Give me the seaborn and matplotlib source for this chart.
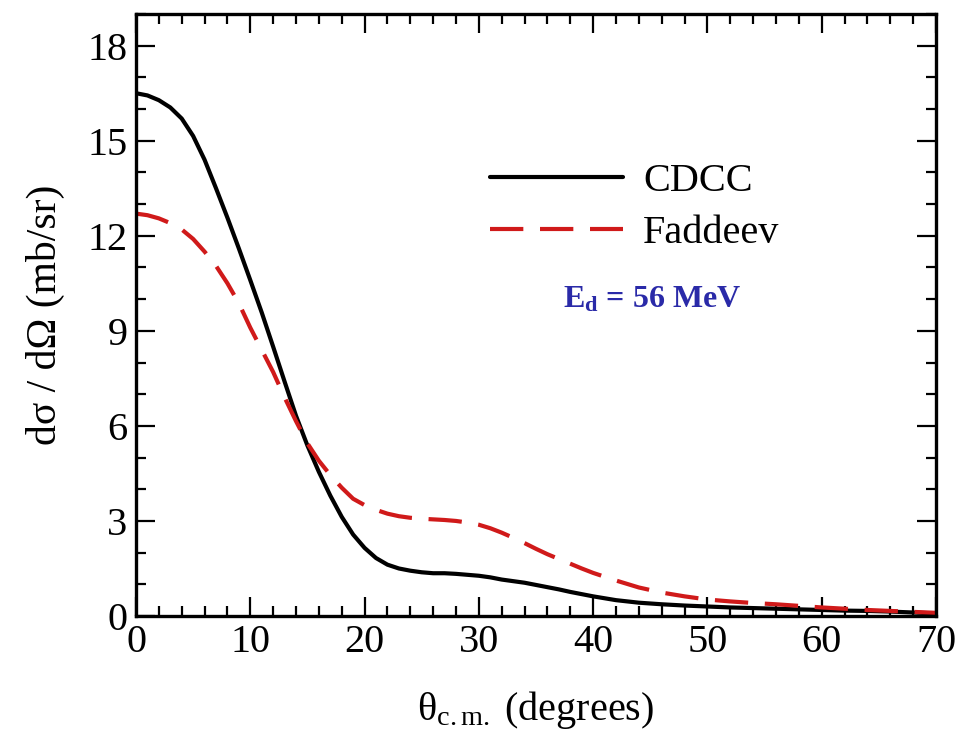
import numpy as np
import pandas as pd
import matplotlib
matplotlib.use("Agg")
import matplotlib.pyplot as plt
from matplotlib.ticker import MultipleLocator
import seaborn as sns

# Deuteron elastic-breakup angular distributions, E_d = 56 MeV
theta = [0, 1, 2, 3, 4, 5, 6, 7, 8, 9, 10, 11, 12, 13, 14, 15, 16, 17, 18, 19,
         20, 21, 22, 23, 24, 25, 26, 27, 28, 29, 30, 31, 32, 33, 34, 35, 36, 37,
         38, 39, 40, 42, 44, 46, 48, 50, 52, 54, 56, 58, 60, 62, 64, 66, 68, 70]

cdcc = [16.5, 16.43, 16.28, 16.05, 15.7, 15.15, 14.4, 13.5, 12.57, 11.6,
        10.6, 9.58, 8.5, 7.4, 6.32, 5.38, 4.55, 3.8, 3.13, 2.57,
        2.15, 1.83, 1.62, 1.5, 1.43, 1.38, 1.35, 1.35, 1.33, 1.3,
        1.27, 1.22, 1.15, 1.1, 1.05, 0.98, 0.91, 0.84, 0.76, 0.69,
        0.62, 0.5, 0.42, 0.37, 0.33, 0.3, 0.27, 0.25, 0.23, 0.21,
        0.19, 0.17, 0.16, 0.14, 0.11, 0.08]

faddeev = [12.7, 12.65, 12.55, 12.4, 12.2, 11.9, 11.5, 11.05, 10.5, 9.87,
           9.1, 8.4, 7.7, 6.9, 6.15, 5.45, 4.9, 4.45, 4.05, 3.7,
           3.5, 3.35, 3.23, 3.15, 3.1, 3.07, 3.05, 3.03, 3.0, 2.95,
           2.88, 2.77, 2.63, 2.47, 2.3, 2.12, 1.95, 1.8, 1.65, 1.5,
           1.36, 1.12, 0.9, 0.74, 0.62, 0.52, 0.46, 0.41, 0.37, 0.32,
           0.27, 0.23, 0.19, 0.16, 0.13, 0.1]

series_names = ["CDCC", "Faddeev"]
x_ticks = [0, 10, 20, 30, 40, 50, 60, 70]
y_ticks = [0, 3, 6, 9, 12, 15, 18]
energy_label = "56 MeV"

df = pd.concat([
    pd.DataFrame({"theta": theta, "xs": cdcc, "model": series_names[0]}),
    pd.DataFrame({"theta": theta, "xs": faddeev, "model": series_names[1]}),
], ignore_index=True)

sns.set_style("ticks")
plt.rcParams["font.family"] = ["Liberation Serif", "DejaVu Serif"]
plt.rcParams["text.color"] = "black"
plt.rcParams["axes.labelcolor"] = "black"
plt.rcParams["xtick.color"] = "black"
plt.rcParams["ytick.color"] = "black"
plt.rcParams["mathtext.fontset"] = "custom"
plt.rcParams["mathtext.rm"] = "Liberation Serif"
plt.rcParams["mathtext.it"] = "Liberation Serif:italic"
plt.rcParams["mathtext.bf"] = "Liberation Serif:bold"
plt.rcParams["mathtext.default"] = "regular"

fig = plt.figure(figsize=(9.63, 7.43), dpi=100)
ax = fig.add_axes([136 / 963, 1 - 616 / 743, 800 / 963, 602 / 743])

red = "#d01a1a"
sns.lineplot(data=df, x="theta", y="xs", hue="model", style="model",
             palette={"CDCC": "black", "Faddeev": red},
             dashes={"CDCC": "", "Faddeev": (8, 4)},
             linewidth=3.0, ax=ax, legend=True, sort=False)

ax.set_xlim(0, 70)
ax.set_ylim(0, 19)
ax.set_xticks(x_ticks)
ax.set_yticks(y_ticks)
ax.xaxis.set_minor_locator(MultipleLocator(2))
ax.yaxis.set_minor_locator(MultipleLocator(1))
ax.tick_params(which="both", direction="in", top=True, right=True,
               width=1.6, labelsize=29, pad=6, colors="black")
ax.tick_params(which="major", length=14)
ax.tick_params(which="minor", length=7)
for sp in ax.spines.values():
    sp.set_linewidth(2.4)
    sp.set_color("black")
    sp.set_visible(True)

ax.set_xlabel(r"$\theta_{\mathrm{c.m.}}$ (degrees)", fontsize=29, labelpad=20)
ax.set_ylabel("dσ / dΩ (mb/sr)", fontsize=30, labelpad=16)

handles, labels = ax.get_legend_handles_labels()
leg = ax.legend(handles, labels, loc="upper left", bbox_to_anchor=(0.4425, 0.752),
                frameon=False, borderpad=0, borderaxespad=0, fontsize=29,
                handlelength=3.3, handletextpad=0.5, labelspacing=0.35)
for h in leg.get_lines():
    h.set_linewidth(3.0)

ax.text(0.645, 0.512, r"$\mathbf{E_d}$ = " + energy_label, transform=ax.transAxes,
        ha="center", va="baseline", fontsize=23, fontweight="bold", color="#2a2aa8")

fig.savefig("out.png", dpi=100, facecolor="white")
